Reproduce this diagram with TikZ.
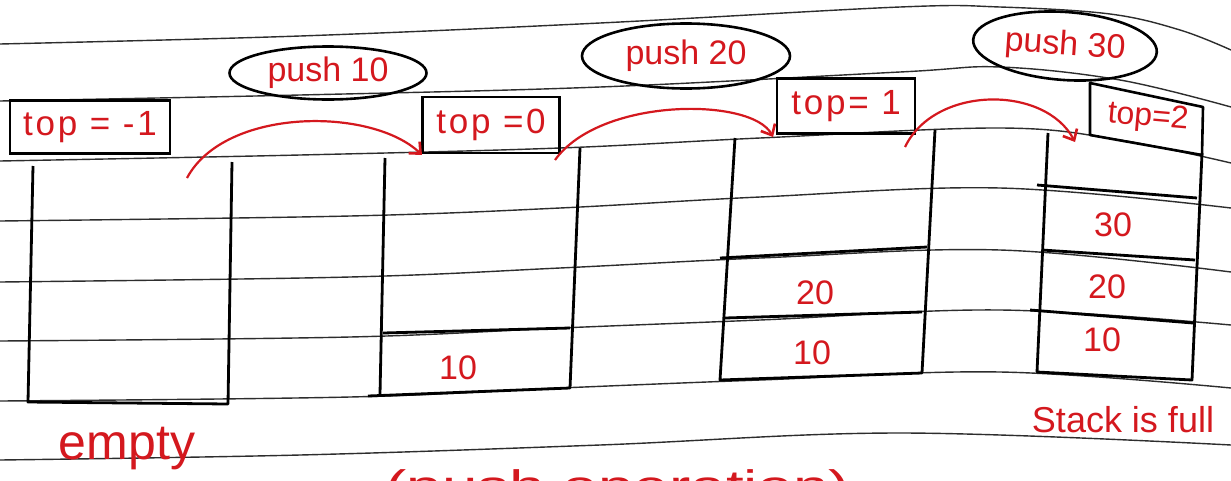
\documentclass[tikz,border=0pt]{standalone}
\usepackage{fontspec}
\setmainfont{Liberation Sans}
\newfontfamily\handspaced[LetterSpace=8]{Liberation Sans}
\usetikzlibrary{arrows.meta,shapes.geometric}
\definecolor{ink}{RGB}{212,24,30}
\definecolor{ruleink}{RGB}{45,45,45}
\begin{document}
\begin{tikzpicture}[x=1pt,y=-1pt,
  ruled/.style={ruleink,line width=1.4pt},
  stk/.style={black,line width=2.8pt,line join=round},
  cell/.style={black,line width=2.8pt},
  topbox/.style={draw,line width=2.6pt,inner sep=0pt,text=ink,font=\handspaced\fontsize{35}{40}\selectfont},
  pushov/.style={ellipse,draw,line width=2.6pt,inner sep=0pt,text=ink,font=\fontsize{34}{38}\selectfont},
  val/.style={text=ink,font=\fontsize{34}{38}\selectfont,inner sep=0pt},
  move/.style={ink,line width=2.2pt,-{Straight Barb[length=9pt,width=16pt,line width=2.6pt]}}
]
\useasboundingbox[fill=white] (0,0) rectangle (1231,480);

% ruled notebook lines
\draw[ruled] plot[smooth,tension=0.6] coordinates {(0,44) (300,36) (600,23) (900,7) (1000,7) (1110,14) (1180,30) (1231,50)};
\draw[ruled] plot[smooth,tension=0.6] coordinates {(0,101) (300,95) (600,87) (900,72) (1000,67) (1120,80) (1231,107)};
\draw[ruled] plot[smooth,tension=0.6] coordinates {(0,161) (300,155) (560,148) (760,138) (1000,128) (1120,140) (1231,163)};
\draw[ruled] plot[smooth,tension=0.6] coordinates {(0,221) (350,216) (560,208) (760,197) (1000,188) (1231,208)};
\draw[ruled] plot[smooth,tension=0.6] coordinates {(0,282) (350,277) (560,268) (760,258) (1000,250) (1231,272)};
\draw[ruled] plot[smooth,tension=0.6] coordinates {(0,341) (350,337) (560,328) (760,320) (1000,310) (1231,325)};
\draw[ruled] plot[smooth,tension=0.6] coordinates {(0,401) (350,397) (560,388) (760,380) (1000,372) (1231,388)};
\draw[ruled] plot[smooth,tension=0.6] coordinates {(0,460) (300,455) (600,445) (900,433) (1231,445)};

% stack 1 (empty)
\draw[stk] (33,166) -- (28,402) -- (228,404) -- (232,162);
% stack 2
\draw[stk] (385,158) -- (380,394);
\draw[stk] (368,396) -- (570,388) -- (580,148);
\draw[cell] (383,333) -- (570,328);
% stack 3
\draw[stk] (735,138) -- (720,380) -- (922,373) -- (935,130);
\draw[cell] (720,258) -- (927,247);
\draw[cell] (725,318) -- (922,312);
% stack 4
\draw[stk] (1048,133) -- (1037,372) -- (1192,380) -- (1202,153);
\draw[cell] (1037,185) -- (1197,198);
\draw[cell] (1042,250) -- (1195,260);
\draw[cell] (1030,310) -- (1193,323);

% top boxes
\node[topbox,minimum width=160pt,minimum height=53pt] (t1) at (90,127) {top = -1};
\node[topbox,minimum width=137pt,minimum height=56pt] (t2) at (491,125) {top =0};
\node[topbox,minimum width=138pt,minimum height=55pt] (t3) at (846,106) {top= 1};
\coordinate (q1) at (1090,83);
\coordinate (q2) at (1203,107);
\coordinate (q3) at (1202,155);
\coordinate (q4) at (1090,135);
\draw[line width=2.6pt,line join=round] (q1) -- (q2) -- (q3) -- (q4) -- cycle;
\node[text=ink,font=\fontsize{32}{36}\selectfont,inner sep=0pt,rotate=-5] (t4) at (1148,118) {top=2};

% push ovals
\node[pushov,minimum width=197pt,minimum height=53pt] (e1) at (328,73) {push 10};
\node[pushov,minimum width=208pt,minimum height=65pt] (e2) at (686,56) {push 20};
\node[pushov,minimum width=184pt,minimum height=68pt,rotate=-4] (e3) at (1065,46) {push 30};

% arrows
\coordinate (a1s) at (187,178);
\coordinate (a1e) at (422,155);
\coordinate (a2s) at (555,160);
\coordinate (a2e) at (773,137);
\coordinate (a3s) at (905,147);
\coordinate (a3e) at (1075,142);
\draw[move] (a1s) .. controls (225,107) and (372,107) .. (a1e);
\draw[move] (a2s) .. controls (600,97) and (752,97) .. (a2e);
\draw[move] (a3s) .. controls (935,85) and (1045,85) .. (a3e);

% values
\node[val] (v2a) at (458,368) {10};
\node[val] (v3b) at (815,293) {20};
\node[val] (v3a) at (812,353) {10};
\node[val] (v4c) at (1113,225) {30};
\node[val] (v4b) at (1107,287) {20};
\node[val] (v4a) at (1102,340) {10};

% captions
\node[val,font=\fontsize{50}{56}\selectfont] (empty) at (127,449) {empty};
\node[val,font=\fontsize{36}{40}\selectfont] (full) at (1123,420) {Stack is full};
\begin{scope}
  \clip (0,0) rectangle (1231,480);
  \node[val,font=\fontsize{44}{50}\selectfont,anchor=north,xscale=1.45] (op) at (618,469) {(push operation)};
\end{scope}
\end{tikzpicture}
\end{document}
